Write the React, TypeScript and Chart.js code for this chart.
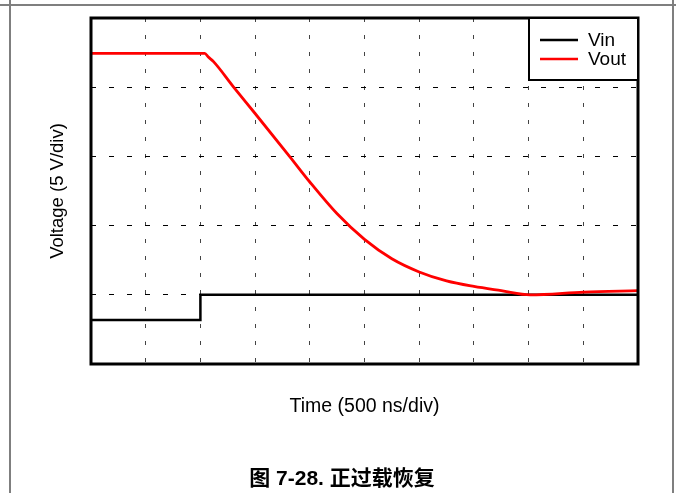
import React, { useEffect, useRef } from "react";
import { Chart, registerables } from "chart.js";

Chart.register(...registerables);

// Time in divisions (500 ns/div), voltage in divisions (5 V/div)
const SERIES_NAMES = ["Vin", "Vout"];
const VIN_T = [0, 2, 2, 10];
const VIN_V = [0.636, 0.636, 1.0, 1.0];
const VOUT_T = [0, 2.08, 2.14, 2.24, 2.6, 3.0, 3.64, 4.0, 4.5, 5.0, 5.5, 6.0, 6.5, 7.0, 7.5, 8.03, 9.01, 10];
const VOUT_V = [4.49, 4.49, 4.44, 4.37, 4.01, 3.62, 2.99, 2.63, 2.17, 1.8, 1.52, 1.33, 1.2, 1.12, 1.06, 1.0, 1.04, 1.06];
const X_DIVS = 10;
const Y_DIVS = 5;
const X_TITLE = "Time (500 ns/div)";
const Y_TITLE = "Voltage (5 V/div)";
const CAPTION = "图 7-28. 正过载恢复";

const FONT = '"Liberation Sans", Arial, sans-serif';

const decorPlugin = {
  id: "decor",
  afterDatasetsDraw(chart: any) {
    const { ctx, chartArea } = chart;
    const { left, top, right, bottom } = chartArea;
    ctx.save();
    // plot frame
    ctx.strokeStyle = "#000";
    ctx.lineWidth = 3;
    ctx.strokeRect(left, top, right - left, bottom - top);

    // legend box
    const lx = 529, ly = top, lw = right - 529, lh = 62;
    ctx.fillStyle = "#fff";
    ctx.fillRect(lx, ly, lw, lh);
    ctx.lineWidth = 2;
    ctx.strokeRect(lx, ly, lw, lh);
    chart.data.datasets.forEach((ds: any, i: number) => {
      const cy = ly + 22 + i * 19;
      ctx.strokeStyle = ds.borderColor;
      ctx.lineWidth = 2.5;
      ctx.beginPath();
      ctx.moveTo(540, cy);
      ctx.lineTo(578, cy);
      ctx.stroke();
      ctx.fillStyle = "#000";
      ctx.font = `19px ${FONT}`;
      ctx.textBaseline = "middle";
      ctx.textAlign = "left";
      ctx.fillText(ds.label, 588, cy + 1);
    });
    ctx.restore();
  },
  afterDraw(chart: any) {
    const { ctx, chartArea } = chart;
    const { left, top, right, bottom } = chartArea;
    ctx.save();
    // outer page frame
    ctx.strokeStyle = "#7f7f7f";
    ctx.lineWidth = 2;
    ctx.beginPath();
    ctx.moveTo(0, 5);
    ctx.lineTo(676, 5);
    ctx.moveTo(10, 0);
    ctx.lineTo(10, 493);
    ctx.moveTo(673, 0);
    ctx.lineTo(673, 493);
    ctx.stroke();

    ctx.fillStyle = "#000";
    ctx.textAlign = "center";
    ctx.textBaseline = "middle";
    ctx.font = `19.5px ${FONT}`;
    ctx.fillText(X_TITLE, (left + right) / 2, 407);

    ctx.save();
    ctx.translate(58, (top + bottom) / 2);
    ctx.rotate(-Math.PI / 2);
    ctx.font = `18.5px ${FONT}`;
    ctx.fillText(Y_TITLE, 0, 0);
    ctx.restore();

    ctx.font = `bold 21px ${FONT}, "Noto Sans CJK SC"`;
    ctx.fillText(CAPTION, 342, 479);
    ctx.restore();
  },
};

export default function App() {
  const ref = useRef<HTMLCanvasElement | null>(null);
  useEffect(() => {
    if (!ref.current) return;
    const vin = VIN_T.map((t, i) => ({ x: t, y: VIN_V[i] }));
    const vout = VOUT_T.map((t, i) => ({ x: t, y: VOUT_V[i] }));
    const chart = new Chart(ref.current, {
      type: "line",
      data: {
        datasets: [
          {
            label: SERIES_NAMES[0],
            data: vin,
            borderColor: "#000000",
            borderWidth: 2.5,
            pointRadius: 0,
            tension: 0,
            order: 1,
          },
          {
            label: SERIES_NAMES[1],
            data: vout,
            borderColor: "#ff0000",
            borderWidth: 2.8,
            pointRadius: 0,
            cubicInterpolationMode: "monotone",
            order: 0,
          },
        ],
      },
      options: {
        responsive: false,
        animation: false,
        devicePixelRatio: 1,
        layout: { padding: { left: 91, top: 18, right: 38, bottom: 129 } },
        plugins: { legend: { display: false }, tooltip: { enabled: false } },
        scales: {
          x: {
            type: "linear",
            min: 0,
            max: X_DIVS,
            ticks: { display: false, stepSize: 1 },
            grid: {
              drawTicks: false,
              lineWidth: 1,
              color: (c: any) => (c.index === 0 || c.index === X_DIVS ? "rgba(0,0,0,0)" : "#444"),
            },
            border: { display: false, dash: [4, 13] },
          },
          y: {
            type: "linear",
            min: 0,
            max: Y_DIVS,
            ticks: { display: false, stepSize: 1 },
            grid: {
              drawTicks: false,
              lineWidth: 1,
              color: (c: any) => (c.index === 0 || c.index === Y_DIVS ? "rgba(0,0,0,0)" : "#000"),
            },
            border: { display: false, dash: [5, 13] },
          },
        },
      },
      plugins: [decorPlugin],
    } as any);
    return () => chart.destroy();
  }, []);
  return (
    <canvas
      ref={ref}
      width={676}
      height={493}
      style={{ position: "absolute", left: 0, top: 0, width: 676, height: 493 }}
    />
  );
}
